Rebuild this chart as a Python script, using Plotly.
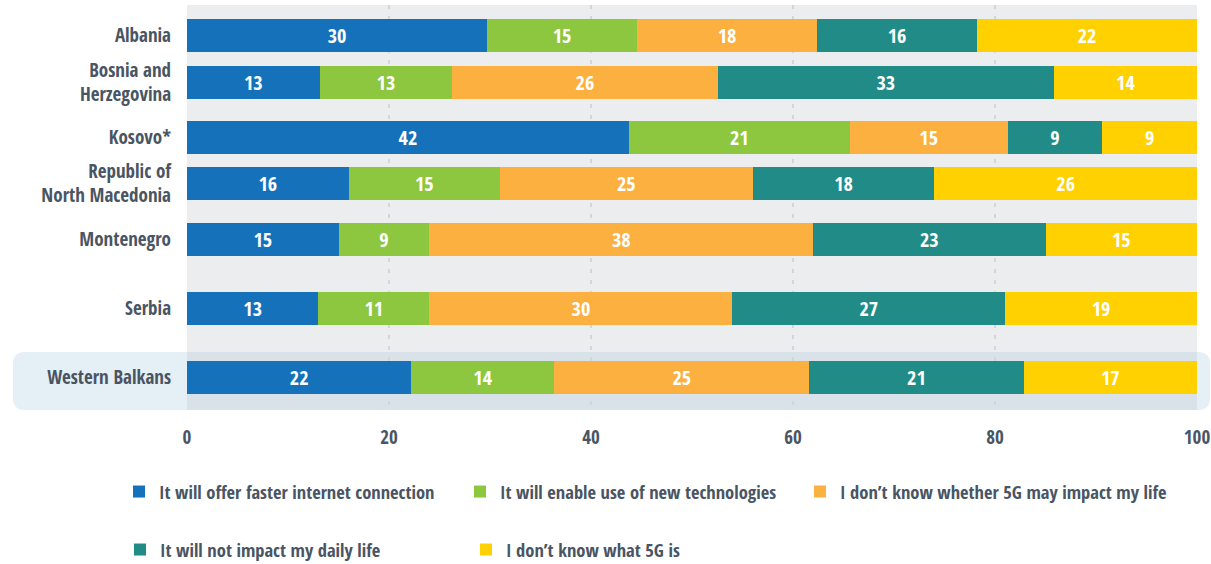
import plotly.graph_objects as go

# ---------------- data ----------------
countries = ["Albania", "Bosnia and<br>Herzegovina", "Kosovo*", "Republic of<br>North Macedonia",
             "Montenegro", "Serbia", "Western Balkans"]
series_names = ["It will offer faster internet connection",
                "It will enable use of new technologies",
                "I don\u2019t know whether 5G may impact my life",
                "It will not impact my daily life",
                "I don\u2019t know what 5G is"]
faster_internet = [30, 13, 42, 16, 15, 13, 22]
new_technologies = [15, 13, 21, 15, 9, 11, 14]
dont_know_impact = [18, 26, 15, 25, 38, 30, 25]
no_impact = [16, 33, 9, 18, 23, 27, 21]
dont_know_5g = [22, 14, 9, 26, 15, 19, 17]
x_ticks = [0, 20, 40, 60, 80, 100]

# ---------------- styles / layout ----------------
colors = ["#1572ba", "#8dc63f", "#fbb040", "#218b87", "#ffd100"]
row_y = [35.5, 82.5, 137.5, 183.5, 239.5, 308.5, 377]   # row placement (layout)
FONT = "Open Sans Condensed, Roboto Condensed, DejaVu Sans Condensed, sans-serif"
TXT = "#4a5563"
W, H = 1211, 564

series = [faster_internet, new_technologies, dont_know_impact, no_impact, dont_know_5g]
legend_ids = ["legend", "legend2", "legend3", "legend4", "legend5"]

fig = go.Figure()
for name, vals, col, lg in zip(series_names, series, colors, legend_ids):
    fig.add_trace(go.Bar(
        y=row_y, x=vals, name=name, orientation="h",
        marker=dict(color=col, line=dict(width=0)),
        width=33,
        text=vals, texttemplate="%{text}", textposition="inside",
        insidetextanchor="middle", textangle=0,
        textfont=dict(family=FONT, size=21, color="white", weight="bold"),
        hoverinfo="skip", legend=lg,
    ))

# highlight box for Western Balkans (paper coords; plot spans px 187..1197, 5..410)
def px2x(p):
    return (p - 187) / 1010.0

def py2y(p):
    return (410 - p) / 405.0

x0, x1 = px2x(13), px2x(1210)
y0, y1 = py2y(410), py2y(352)
rx, ry = 12 / 1010.0, 12 / 405.0
path = (f"M{x0+rx},{y0} L{x1-rx},{y0} Q{x1},{y0} {x1},{y0+ry} L{x1},{y1-ry} "
        f"Q{x1},{y1} {x1-rx},{y1} L{x0+rx},{y1} Q{x0},{y1} {x0},{y1-ry} "
        f"L{x0},{y0+ry} Q{x0},{y0} {x0+rx},{y0} Z")
shapes = [
    dict(type="path", path=path, xref="paper", yref="paper", layer="below",
         fillcolor="#e5eff6", line=dict(width=0)),
    dict(type="rect", x0=0, x1=1, y0=y0, y1=y1, xref="paper", yref="paper",
         layer="below", fillcolor="#d9e2e8", line=dict(width=0)),
]

legend_pos = [(119, 492), (460, 492), (800, 492), (120, 550), (466, 550)]
legend_common = dict(orientation="h", xanchor="left", yanchor="middle",
                     xref="container", yref="container",
                     bgcolor="rgba(0,0,0,0)", borderwidth=0,
                     font=dict(family=FONT, size=18.5, color=TXT, weight="bold"))
layout_legends = {}
for lg, (lx, ly) in zip(legend_ids, legend_pos):
    layout_legends[lg] = dict(x=lx / W, y=1 - ly / H, **legend_common)

fig.update_layout(
    width=W, height=H,
    margin=dict(l=187, r=14, t=5, b=154, autoexpand=False),
    paper_bgcolor="white", plot_bgcolor="#ecedef",
    barmode="stack", barnorm="percent",
    showlegend=True,
    shapes=shapes,
    font=dict(family=FONT, color=TXT),
    xaxis=dict(range=[0, 100], tickvals=x_ticks, ticktext=[str(t) for t in x_ticks],
               showgrid=True, gridcolor="#d2d5d9", gridwidth=1.5, griddash="4px,7px",
               zeroline=False, showline=False, ticks="", ticklabelstandoff=14,
               automargin=False, ticklabeloverflow="allow",
               tickfont=dict(family=FONT, size=19, color=TXT, weight="bold")),
    yaxis=dict(range=[410, 5], tickvals=row_y, ticktext=countries,
               showgrid=False, zeroline=False, showline=False, ticks="",
               ticklabelstandoff=15, automargin=False,
               tickfont=dict(family=FONT, size=19, color=TXT, weight="bold")),
    **layout_legends,
)

fig.write_html("out.html", config={"displayModeBar": False},
               post_script="document.body.style.margin='0px';")
